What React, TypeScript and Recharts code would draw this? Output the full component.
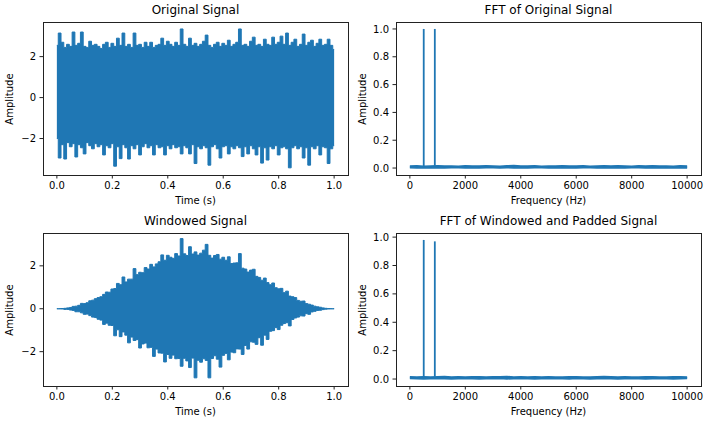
import React from 'react'
import { ComposedChart, Area, Line, XAxis, YAxis } from 'recharts'

const BLUE = '#1f77b4'
const FONT = '"DejaVu Sans", sans-serif'

// sample times (s) for the signal envelopes
const time = [
  0, 0.01, 0.02, 0.03, 0.04, 0.05, 0.06, 0.07, 0.08, 0.09,
  0.1, 0.11, 0.12, 0.13, 0.14, 0.15, 0.16, 0.17, 0.18, 0.19,
  0.2, 0.21, 0.22, 0.23, 0.24, 0.25, 0.26, 0.27, 0.28, 0.29,
  0.3, 0.31, 0.32, 0.33, 0.34, 0.35, 0.36, 0.37, 0.38, 0.39,
  0.4, 0.41, 0.42, 0.43, 0.44, 0.45, 0.46, 0.47, 0.48, 0.49,
  0.5, 0.51, 0.52, 0.53, 0.54, 0.55, 0.56, 0.57, 0.58, 0.59,
  0.6, 0.61, 0.62, 0.63, 0.64, 0.65, 0.66, 0.67, 0.68, 0.69,
  0.7, 0.71, 0.72, 0.73, 0.74, 0.75, 0.76, 0.77, 0.78, 0.79,
  0.8, 0.81, 0.82, 0.83, 0.84, 0.85, 0.86, 0.87, 0.88, 0.89,
  0.9, 0.91, 0.92, 0.93, 0.94, 0.95, 0.96, 0.97, 0.98, 0.99,
  1.0,
]

// original signal: top and bottom of the noisy band
const origHi = [
  2.55, 3.15, 2.7, 2.45, 2.6, 2.5, 3.2, 2.55, 2.65, 3.2,
  2.5, 2.45, 2.75, 2.55, 2.6, 2.5, 2.4, 2.6, 2.7, 2.45,
  2.65, 2.5, 2.9, 2.55, 3.15, 2.5, 2.6, 2.45, 3.15, 2.55,
  2.6, 2.45, 2.7, 2.5, 2.7, 2.45, 2.55, 2.6, 2.9, 2.55,
  2.75, 2.6, 2.5, 2.7, 2.55, 3.35, 2.6, 2.5, 2.9, 2.55,
  2.65, 2.5, 2.6, 2.75, 3.05, 2.55, 2.45, 2.6, 2.7, 2.5,
  2.65, 2.55, 2.8, 2.5, 2.6, 2.7, 3.35, 2.55, 2.6, 2.5,
  2.75, 2.95, 2.55, 2.6, 2.5, 2.85, 2.6, 2.55, 2.95, 2.6,
  2.7, 3.0, 2.6, 3.15, 2.55, 2.7, 2.85, 2.5, 2.6, 3.1,
  2.55, 2.7, 2.8, 2.5, 2.65, 2.85, 2.55, 2.6, 2.85, 2.55,
  2.35,
]
const origLo = [
  -2.0, -2.95, -2.3, -3.0, -2.2, -2.4, -2.25, -2.9, -2.3, -2.45,
  -2.75, -2.2, -2.35, -2.5, -2.25, -2.4, -2.3, -2.8, -2.35, -2.45,
  -2.25, -3.35, -2.4, -2.98, -2.3, -2.45, -3.0, -2.35, -2.5, -2.3,
  -2.8, -2.4, -2.25, -2.45, -2.35, -2.8, -2.3, -2.45, -2.4, -2.8,
  -2.35, -2.5, -2.3, -2.45, -2.4, -2.75, -2.35, -2.45, -2.75, -2.3,
  -3.22, -2.4, -2.5, -2.35, -2.45, -3.3, -2.4, -2.3, -2.5, -2.95,
  -2.4, -2.35, -2.75, -2.4, -2.5, -2.35, -2.45, -2.88, -2.4, -2.75,
  -2.35, -2.5, -2.8, -2.4, -3.2, -2.45, -3.05, -2.4, -2.5, -2.35,
  -2.8, -2.45, -2.4, -2.5, -3.43, -2.45, -2.35, -2.5, -2.4, -2.95,
  -2.45, -3.3, -2.4, -2.5, -2.35, -2.8, -2.4, -2.45, -3.22, -2.5,
  -2.35,
]

// windowed signal band
const winHi = [
  0, 0, 0.01, 0.02, 0.04, 0.06, 0.11, 0.12, 0.16, 0.25,
  0.24, 0.28, 0.37, 0.4, 0.47, 0.52, 0.56, 0.67, 0.78, 0.77,
  0.92, 0.94, 1.18, 1.12, 1.48, 1.25, 1.38, 1.38, 1.87, 1.59,
  1.7, 1.68, 1.92, 1.85, 2.07, 1.95, 2.09, 2.19, 2.51, 2.26,
  2.49, 2.4, 2.35, 2.57, 2.46, 3.27, 2.56, 2.48, 2.89, 2.55,
  2.65, 2.5, 2.59, 2.73, 3.0, 2.49, 2.36, 2.48, 2.53, 2.31,
  2.4, 2.26, 2.42, 2.11, 2.13, 2.14, 2.57, 1.89, 1.85, 1.71,
  1.8, 1.84, 1.51, 1.46, 1.33, 1.43, 1.22, 1.12, 1.2, 0.98,
  0.93, 0.95, 0.75, 0.82, 0.59, 0.56, 0.52, 0.39, 0.35, 0.36,
  0.24, 0.21, 0.17, 0.12, 0.09, 0.07, 0.04, 0.02, 0.01, 0,
  0,
]
const winLo = [
  0, 0, -0.01, -0.03, -0.03, -0.06, -0.08, -0.14, -0.14, -0.19,
  -0.26, -0.25, -0.32, -0.39, -0.41, -0.49, -0.53, -0.73, -0.67, -0.77,
  -0.78, -1.26, -0.98, -1.3, -1.08, -1.23, -1.59, -1.32, -1.48, -1.44,
  -1.83, -1.64, -1.6, -1.82, -1.8, -2.22, -1.88, -2.06, -2.07, -2.48,
  -2.13, -2.31, -2.16, -2.33, -2.32, -2.68, -2.31, -2.43, -2.74, -2.3,
  -3.22, -2.4, -2.49, -2.33, -2.41, -3.22, -2.32, -2.19, -2.35, -2.72,
  -2.17, -2.08, -2.38, -2.02, -2.05, -1.87, -1.88, -2.13, -1.71, -1.88,
  -1.54, -1.56, -1.66, -1.35, -1.7, -1.23, -1.43, -1.05, -1.02, -0.88,
  -0.97, -0.77, -0.69, -0.65, -0.8, -0.5, -0.43, -0.39, -0.33, -0.34,
  -0.23, -0.26, -0.15, -0.12, -0.08, -0.07, -0.04, -0.02, -0.01, 0,
  0,
]

// FFT noise floor (Hz)
const freq = [
  0, 250, 500, 750, 1000, 1250, 1500, 1750, 2000, 2250,
  2500, 2750, 3000, 3250, 3500, 3750, 4000, 4250, 4500, 4750,
  5000, 5250, 5500, 5750, 6000, 6250, 6500, 6750, 7000, 7250,
  7500, 7750, 8000, 8250, 8500, 8750, 9000, 9250, 9500, 9750,
  10000,
]
const fftHi = [
  0.014, 0.016, 0.013, 0.015, 0.017, 0.014, 0.015, 0.013, 0.016, 0.015,
  0.014, 0.017, 0.015, 0.013, 0.016, 0.018, 0.014, 0.015, 0.016, 0.013,
  0.015, 0.014, 0.017, 0.015, 0.014, 0.016, 0.013, 0.015, 0.017, 0.014,
  0.016, 0.015, 0.013, 0.016, 0.015, 0.017, 0.014, 0.015, 0.013, 0.016,
  0.014,
]
const fftLo = [
  0.002, 0.001, 0.002, 0.001, 0.003, 0.001, 0.002, 0.002, 0.001, 0.002,
  0.001, 0.002, 0.003, 0.001, 0.002, 0.001, 0.002, 0.001, 0.002, 0.003,
  0.001, 0.002, 0.001, 0.002, 0.001, 0.003, 0.002, 0.001, 0.002, 0.001,
  0.002, 0.001, 0.002, 0.003, 0.001, 0.002, 0.001, 0.002, 0.001, 0.002,
  0.001,
]
const fftWinHi = [
  0.016, 0.015, 0.017, 0.014, 0.016, 0.018, 0.015, 0.016, 0.014, 0.017,
  0.016, 0.015, 0.017, 0.016, 0.018, 0.015, 0.016, 0.014, 0.017, 0.015,
  0.016, 0.014, 0.015, 0.017, 0.016, 0.015, 0.014, 0.016, 0.018, 0.017,
  0.015, 0.016, 0.014, 0.015, 0.017, 0.016, 0.014, 0.015, 0.017, 0.016,
  0.015,
]
const fftWinLo = [
  0.003, 0.002, 0.001, 0.002, 0.003, 0.002, 0.001, 0.002, 0.003, 0.002,
  0.001, 0.002, 0.002, 0.003, 0.001, 0.002, 0.003, 0.002, 0.001, 0.002,
  0.003, 0.002, 0.002, 0.001, 0.003, 0.002, 0.001, 0.002, 0.003, 0.002,
  0.001, 0.002, 0.003, 0.002, 0.001, 0.002, 0.003, 0.002, 0.001, 0.002,
  0.003,
]

const peakFreqs = [500, 900]
const peakAmps = [1.0, 1.0]
const peakAmpsWin = [0.98, 0.97]

const timeTicks = [0, 0.2, 0.4, 0.6, 0.8, 1.0]
const sigTicks = [-2, 0, 2]
const freqTicks = [0, 2000, 4000, 6000, 8000, 10000]
const ampTicks = [0, 0.2, 0.4, 0.6, 0.8, 1.0]

const origRows = time.map((t, i) => ({ t, band: [origLo[i], origHi[i]] }))
const winRows = time.map((t, i) => ({ t, band: [winLo[i], winHi[i]] }))
const fftRows = freq.map((f, i) => ({ f, band: [fftLo[i], fftHi[i]] }))
const fftWinRows = freq.map((f, i) => ({ f, band: [fftWinLo[i], fftWinHi[i]] }))
const peakRows = (amps: number[], floor: number[]) =>
  peakFreqs.map((f, i) => [
    { f, a: floor[i] },
    { f, a: amps[i] },
  ])

const fmt1 = (v: number) => v.toFixed(1)
const fmtSig = (v: number) => (v < 0 ? '\u2212' + Math.abs(v) : String(v))

type Box = { x: number; y: number; w: number; h: number }

const PAD_L = 50
const PAD_T = 10
const PAD_R = 10
const PAD_B = 40

const tickStyle = { fill: '#000', fontSize: 10, fontFamily: FONT }

const Panel = ({
  box,
  title,
  xLabel,
  xKey,
  xDomain,
  xTicks,
  xFmt,
  yDomain,
  yTicks,
  yFmt,
  children,
}: {
  box: Box
  title: string
  xLabel: string
  xKey: string
  xDomain: [number, number]
  xTicks: number[]
  xFmt: (v: number) => string
  yDomain: [number, number]
  yTicks: number[]
  yFmt: (v: number) => string
  children: React.ReactNode
}) => (
  <>
    <div style={{ position: 'absolute', left: box.x - PAD_L, top: box.y - PAD_T }}>
      <ComposedChart
        width={box.w + PAD_L + PAD_R}
        height={box.h + PAD_T + PAD_B}
        margin={{ top: PAD_T, right: PAD_R, left: 0, bottom: 0 }}
      >
        <XAxis
          type="number"
          dataKey={xKey}
          domain={xDomain}
          ticks={xTicks}
          tickFormatter={xFmt}
          allowDataOverflow
          interval={0}
          height={PAD_B}
          axisLine={false}
          tickSize={3.5}
          tickMargin={3.5}
          stroke="#222"
          tick={tickStyle}
        />
        <YAxis
          type="number"
          domain={yDomain}
          ticks={yTicks}
          tickFormatter={yFmt}
          allowDataOverflow
          interval={0}
          width={PAD_L}
          axisLine={false}
          tickSize={3.5}
          tickMargin={3.5}
          stroke="#222"
          tick={tickStyle}
        />
        {children}
      </ComposedChart>
    </div>
    <div
      style={{
        position: 'absolute',
        left: box.x,
        top: box.y,
        width: box.w + 1,
        height: box.h + 1,
        border: '1px solid #222',
        boxSizing: 'border-box',
        pointerEvents: 'none',
      }}
    />
    <div
      style={{
        position: 'absolute',
        left: box.x,
        width: box.w,
        top: box.y - 19,
        lineHeight: '14px',
        fontSize: 12,
        textAlign: 'center',
        fontFamily: FONT,
      }}
    >
      {title}
    </div>
    <div
      style={{
        position: 'absolute',
        left: box.x,
        width: box.w,
        top: box.y + box.h + 19.5,
        lineHeight: '12px',
        fontSize: 10,
        textAlign: 'center',
        fontFamily: FONT,
      }}
    >
      {xLabel}
    </div>
    <div
      style={{
        position: 'absolute',
        left: box.x - 33,
        top: box.y + box.h / 2,
        transform: 'translate(-50%, -50%) rotate(-90deg)',
        fontSize: 10,
        lineHeight: '12px',
        whiteSpace: 'nowrap',
        fontFamily: FONT,
      }}
    >
      Amplitude
    </div>
  </>
)

const SignalBand = ({ rows }: { rows: { t: number; band: number[] }[] }) => (
  <Area
    data={rows}
    dataKey="band"
    type="step"
    stroke={BLUE}
    strokeWidth={1}
    fill={BLUE}
    fillOpacity={1}
    dot={false}
    activeDot={false}
    isAnimationActive={false}
  />
)

const FloorBand = ({ rows }: { rows: { f: number; band: number[] }[] }) => (
  <Area
    data={rows}
    dataKey="band"
    type="linear"
    stroke={BLUE}
    strokeWidth={1.5}
    fill={BLUE}
    fillOpacity={1}
    dot={false}
    activeDot={false}
    isAnimationActive={false}
  />
)

const boxTL: Box = { x: 43, y: 22, w: 305, h: 153 }
const boxTR: Box = { x: 396, y: 22, w: 305, h: 153 }
const boxBL: Box = { x: 43, y: 233, w: 305, h: 153 }
const boxBR: Box = { x: 396, y: 233, w: 305, h: 153 }

export default function App() {
  const peaks = peakRows(peakAmps, [fftHi[2], fftHi[4]])
  const peaksWin = peakRows(peakAmpsWin, [fftWinHi[2], fftWinHi[4]])
  return (
    <div
      style={{
        position: 'absolute',
        left: 0,
        top: 0,
        width: 710,
        height: 424,
        background: '#fff',
        overflow: 'hidden',
      }}
    >
      <Panel
        box={boxTL}
        title="Original Signal"
        xLabel="Time (s)"
        xKey="t"
        xDomain={[-0.05, 1.05]}
        xTicks={timeTicks}
        xFmt={fmt1}
        yDomain={[-3.78, 3.69]}
        yTicks={sigTicks}
        yFmt={fmtSig}
      >
        {SignalBand({ rows: origRows })}
      </Panel>
      <Panel
        box={boxTR}
        title="FFT of Original Signal"
        xLabel="Frequency (Hz)"
        xKey="f"
        xDomain={[-500, 10500]}
        xTicks={freqTicks}
        xFmt={(v) => String(v)}
        yDomain={[-0.05, 1.05]}
        yTicks={ampTicks}
        yFmt={fmt1}
      >
        {FloorBand({ rows: fftRows })}
        {peaks.map((d, i) => (
          <Line
            key={i}
            data={d}
            dataKey="a"
            stroke={BLUE}
            strokeWidth={1.8}
            dot={false}
            activeDot={false}
            isAnimationActive={false}
          />
        ))}
      </Panel>
      <Panel
        box={boxBL}
        title="Windowed Signal"
        xLabel="Time (s)"
        xKey="t"
        xDomain={[-0.05, 1.05]}
        xTicks={timeTicks}
        xFmt={fmt1}
        yDomain={[-3.6, 3.53]}
        yTicks={sigTicks}
        yFmt={fmtSig}
      >
        {SignalBand({ rows: winRows })}
      </Panel>
      <Panel
        box={boxBR}
        title="FFT of Windowed and Padded Signal"
        xLabel="Frequency (Hz)"
        xKey="f"
        xDomain={[-500, 10500]}
        xTicks={freqTicks}
        xFmt={(v) => String(v)}
        yDomain={[-0.049, 1.029]}
        yTicks={ampTicks}
        yFmt={fmt1}
      >
        {FloorBand({ rows: fftWinRows })}
        {peaksWin.map((d, i) => (
          <Line
            key={i}
            data={d}
            dataKey="a"
            stroke={BLUE}
            strokeWidth={1.8}
            dot={false}
            activeDot={false}
            isAnimationActive={false}
          />
        ))}
      </Panel>
    </div>
  )
}
